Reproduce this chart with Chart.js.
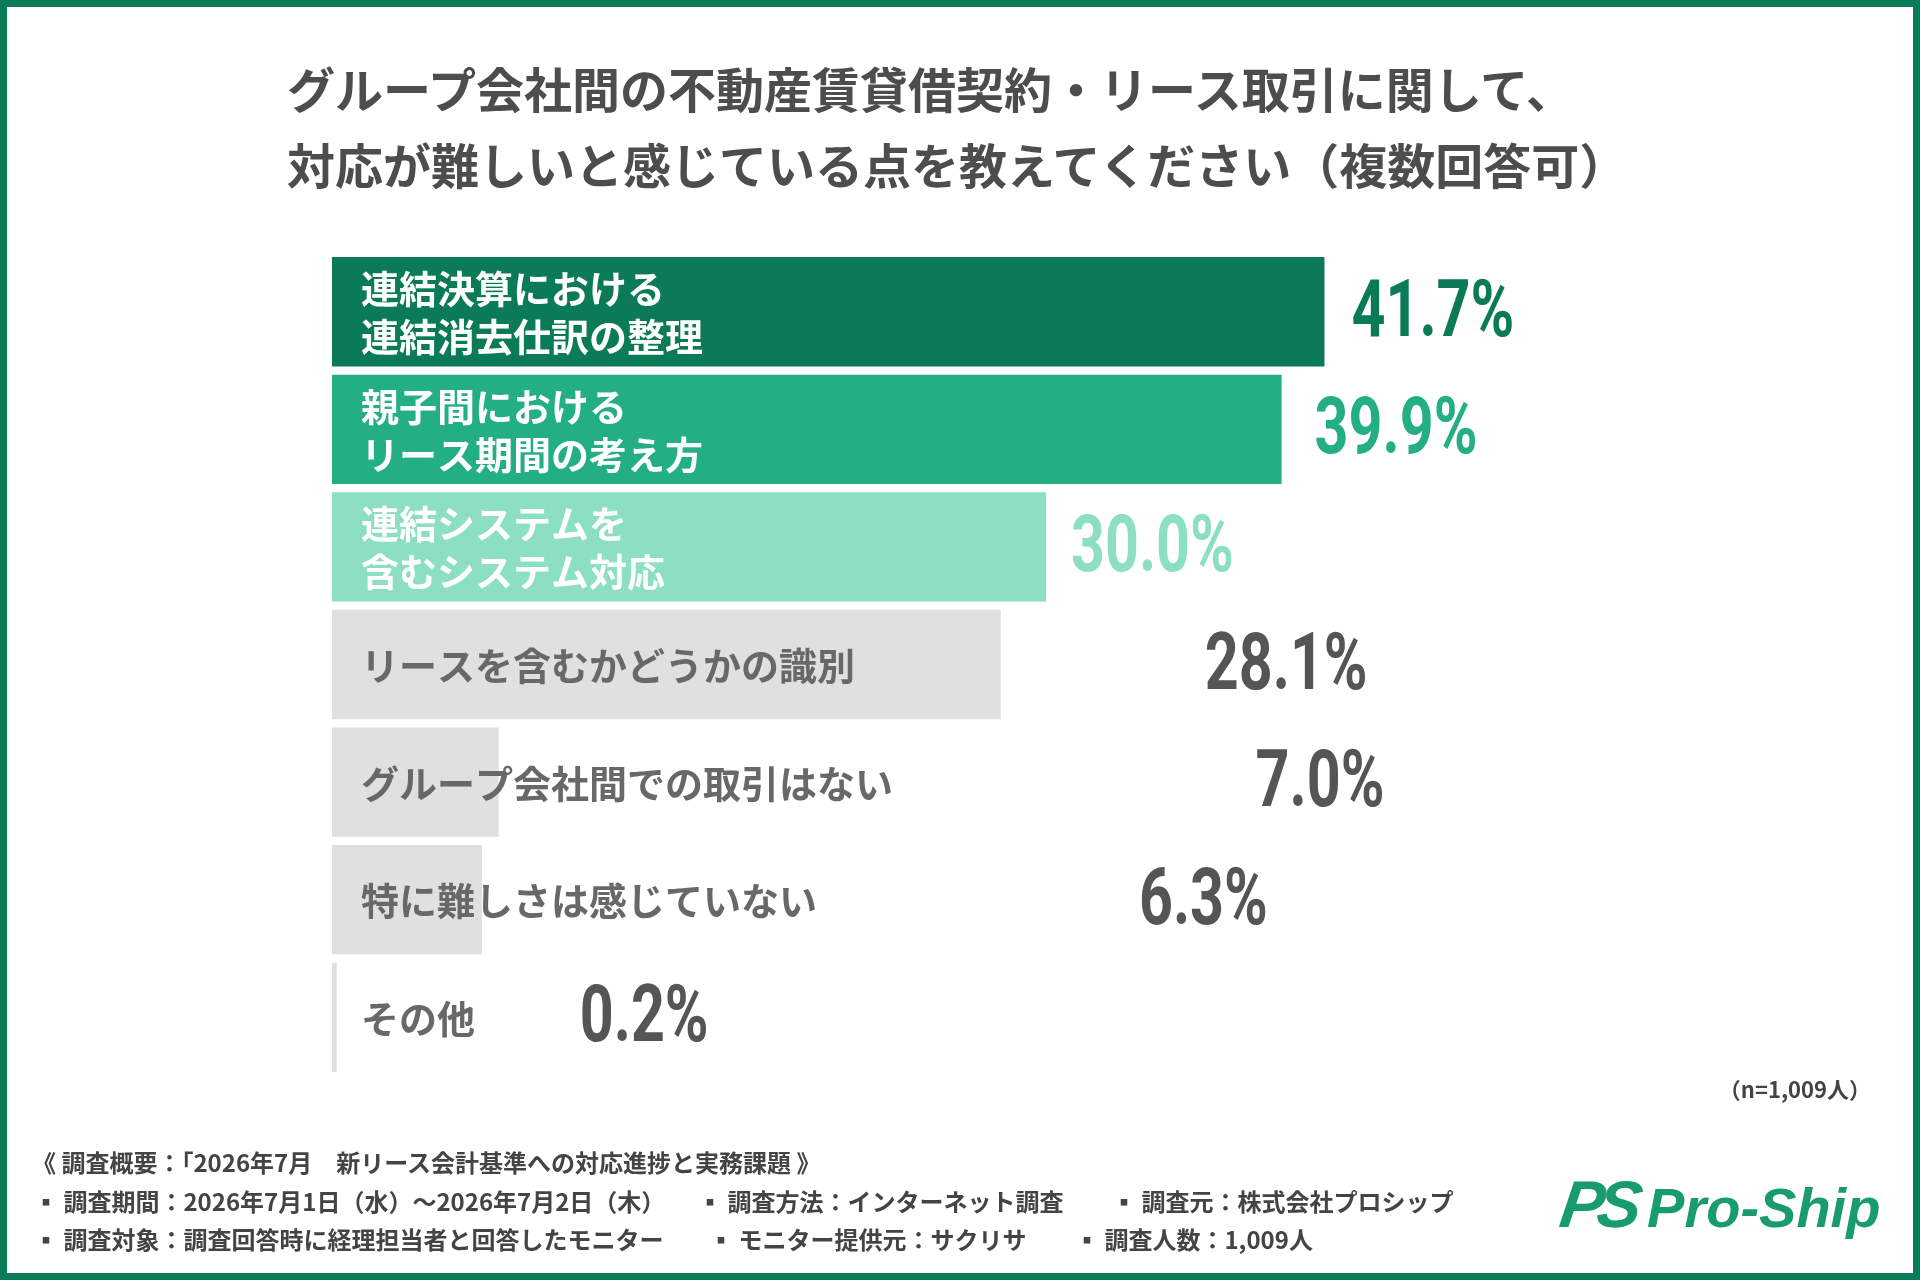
<!DOCTYPE html>
<html lang="ja">
<head>
<meta charset="utf-8">
<script src="https://cdn.jsdelivr.net/npm/chart.js@4.4.1/dist/chart.umd.min.js"></script>
<style>
html, body { margin: 0; padding: 0; background: #fff; }
#frame { position: relative; width: 1920px; height: 1280px; overflow: hidden; font-family: "Noto Sans CJK JP", sans-serif; }
#frame:after { content: ""; position: absolute; left: 0; top: 0; right: 0; bottom: 0; border: 7px solid #0b7a57; pointer-events: none; }
#chart { position: absolute; left: 0; top: 0; }
.title { position: absolute; left: 287px; top: 49px; font-size: 48px; font-weight: 700; color: #4d4d4d; line-height: 76px; white-space: nowrap; }
.note { position: absolute; right: 49px; top: 1072px; font-size: 22px; font-weight: 700; color: #444; white-space: nowrap; }
.foot { position: absolute; font-size: 24px; font-weight: 700; color: #444; white-space: nowrap; line-height: 30px; }
.logo { position: absolute; left: 1561px; top: 1166px; white-space: nowrap; color: #189b6f; font-family: "Liberation Sans", sans-serif; font-style: italic; font-weight: 700; }
.logo .ps { font-size: 66px; letter-spacing: -7px; font-weight: 900; display: inline-block; transform: skewX(-8deg); }
.logo .name { font-size: 56px; margin-left: 12px; }
</style>
</head>
<body>
<div id="frame">
  <canvas id="chart" width="1920" height="1280"></canvas>
  <div class="title">グループ会社間の不動産賃貸借契約・リース取引に関して、<br>対応が難しいと感じている点を教えてください（複数回答可）</div>
  <div class="note">（n=1,009人）</div>
  <div class="foot" style="left:32px;top:1147px;">《 調査概要：「2026年7月　新リース会計基準への対応進捗と実務課題 》</div>
  <div class="foot" style="left:34px;top:1186px;">▪ 調査期間：2026年7月1日（水）～2026年7月2日（木）</div>
  <div class="foot" style="left:698px;top:1186px;">▪ 調査方法：インターネット調査</div>
  <div class="foot" style="left:1112px;top:1186px;">▪ 調査元：株式会社プロシップ</div>
  <div class="foot" style="left:34px;top:1224px;">▪ 調査対象：調査回答時に経理担当者と回答したモニター</div>
  <div class="foot" style="left:709px;top:1224px;">▪ モニター提供元：サクリサ</div>
  <div class="foot" style="left:1075px;top:1224px;">▪ 調査人数：1,009人</div>
  <div class="logo"><span class="ps">PS</span><span class="name">Pro-Ship</span></div>
</div>
<script>
// survey answers (multiple choice), n=1,009
var categories = [
    ['連結決算における', '連結消去仕訳の整理'],
    ['親子間における', 'リース期間の考え方'],
    ['連結システムを', '含むシステム対応'],
    ['リースを含むかどうかの識別'],
    ['グループ会社間での取引はない'],
    ['特に難しさは感じていない'],
    ['その他']
];
var values = [41.7, 39.9, 30.0, 28.1, 7.0, 6.3, 0.2];

var barColors = ['#0b7a57', '#24ae84', '#8ddfc2', '#e0e0e0', '#e0e0e0', '#e0e0e0', '#e0e0e0'];
var textColors = ['#ffffff', '#ffffff', '#ffffff', '#686868', '#686868', '#686868', '#686868'];
var valueColors = ['#0b7a57', '#24ae84', '#8ddfc2', '#555555', '#555555', '#555555', '#555555'];
// gap between bar end and its percentage
var valueGaps = [27, 33, 25, 204, 757, 657, 243];

var barLabels = {
    id: 'barLabels',
    afterDatasetsDraw: function(chart) {
        var ctx = chart.ctx;
        var meta = chart.getDatasetMeta(0);
        var left = chart.scales.x.getPixelForValue(0);
        ctx.save();
        meta.data.forEach(function(bar, i) {
            // category text inside the bar
            var lines = categories[i];
            ctx.font = 'bold 38px "Noto Sans CJK JP", sans-serif';
            ctx.fillStyle = textColors[i];
            ctx.textAlign = 'left';
            ctx.textBaseline = 'middle';
            var step = 48;
            var y0 = bar.y - (lines.length - 1) * step / 2;
            lines.forEach(function(t, k) {
                ctx.fillText(t, left + 29, y0 + k * step + 1);
            });
            // percentage, condensed
            var txt = values[i].toFixed(1) + '%';
            ctx.save();
            ctx.translate(bar.x + valueGaps[i], bar.y + 24);
            ctx.scale(0.74, 1);
            ctx.font = 'bold 80px Roboto, sans-serif';
            ctx.fillStyle = valueColors[i];
            ctx.textBaseline = 'alphabetic';
            ctx.fillText(txt, 0, 0);
            ctx.restore();
        });
        ctx.restore();
    }
};

var ctx = document.getElementById('chart').getContext('2d');
var myChart = new Chart(ctx, {
    type: 'bar',
    data: {
        labels: categories,
        datasets: [{
            data: values,
            backgroundColor: barColors,
            borderWidth: 0,
            barPercentage: 0.93,
            categoryPercentage: 1
        }]
    },
    options: {
        indexAxis: 'y',
        responsive: false,
        animation: false,
        devicePixelRatio: 1,
        layout: {
            padding: { left: 332, right: 398, top: 253, bottom: 204 }
        },
        scales: {
            x: { min: 0, max: 50, display: false },
            y: { display: false }
        },
        plugins: {
            legend: { display: false },
            tooltip: { enabled: false }
        }
    },
    plugins: [barLabels]
});
</script>
</body>
</html>
